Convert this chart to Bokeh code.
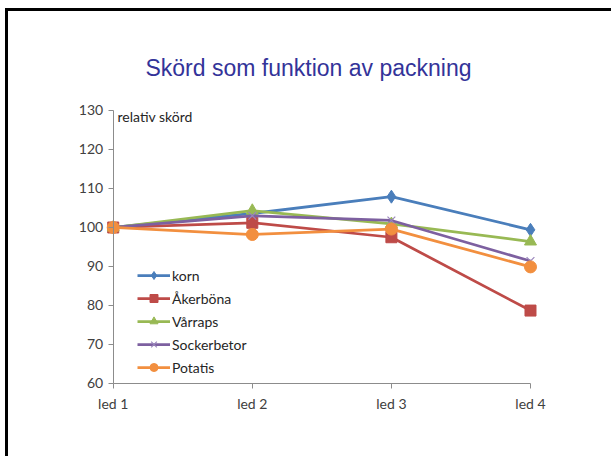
from bokeh.plotting import figure
from bokeh.models import FixedTicker, Legend, LegendItem, Label
from bokeh.embed import file_html
from bokeh.resources import INLINE

# ---- data ----
categories = ["led 1", "led 2", "led 3", "led 4"]
korn = [100, 103.6, 107.9, 99.4]
akerbona = [100, 101.2, 97.5, 78.7]
varraps = [100, 104.3, 100.9, 96.4]
sockerbetor = [100, 103.0, 101.8, 91.4]
potatis = [100, 98.2, 99.6, 89.9]
series_names = ["korn", "Åkerböna", "Vårraps", "Sockerbetor", "Potatis"]
y_ticks = [60, 70, 80, 90, 100, 110, 120, 130]
title_text = "Skörd som funktion av packning"
y_label = "relativ skörd"

colors = ["#4A7EBB", "#BE4B48", "#98B954", "#7D60A0", "#F28F3F"]
markers = ["diamond", "square", "triangle", "x", "circle"]
msizes = [13, 11, 12, 11, 12]

x = list(range(len(categories)))

p = figure(width=606, height=448, output_backend="svg", toolbar_location=None,
           x_range=(-0.3214, 3.3595), y_range=(49.23, 150.51),
           min_border_left=60, min_border_right=34, min_border_top=19, min_border_bottom=34)
p.styles = {"border-top": "3px solid black", "border-left": "3px solid black",
            "margin-left": "5px", "margin-top": "8px"}
p.outline_line_color = None
p.xgrid.visible = False
p.ygrid.visible = False
p.background_fill_color = "white"
p.border_fill_color = "white"

axis_color = "#8C8C8C"
label_color = "#404040"
tick_font = "Lato"

p.yaxis.fixed_location = x[0]
p.yaxis.bounds = (y_ticks[0], y_ticks[-1])
p.yaxis.ticker = FixedTicker(ticks=y_ticks)
p.yaxis.minor_tick_line_color = None
p.yaxis.major_tick_in = 0
p.yaxis.major_tick_out = 5
p.yaxis.axis_line_color = axis_color
p.yaxis.major_tick_line_color = axis_color
p.yaxis.major_label_text_font = tick_font
p.yaxis.major_label_text_font_size = "14px"
p.yaxis.major_label_text_color = label_color
p.yaxis.major_label_standoff = 5

p.xaxis.fixed_location = y_ticks[0]
p.xaxis.bounds = (x[0], x[-1])
p.xaxis.ticker = FixedTicker(ticks=x)
p.xaxis.major_label_overrides = {i: c for i, c in zip(x, categories)}
p.xaxis.minor_tick_line_color = None
p.xaxis.major_tick_in = 0
p.xaxis.major_tick_out = 5
p.xaxis.axis_line_color = axis_color
p.xaxis.major_tick_line_color = axis_color
p.xaxis.major_label_text_font = tick_font
p.xaxis.major_label_text_font_size = "14px"
p.xaxis.major_label_text_color = label_color
p.xaxis.major_label_standoff = 7

all_series = [korn, akerbona, varraps, sockerbetor, potatis]
items = []
for name, vals, col, mk, ms in zip(series_names, all_series, colors, markers, msizes):
    r1 = p.line(x, vals, line_color=col, line_width=2.75)
    if mk == "x":
        r2 = p.scatter(x, vals, marker=mk, size=ms, line_color="#9A86BC", line_width=1.2)
    else:
        r2 = p.scatter(x, vals, marker=mk, size=ms, fill_color=col, line_color=col)
    items.append(LegendItem(label=name, renderers=[r1, r2]))

legend = Legend(items=items, location=(69, 48), padding=0, margin=0, spacing=3,
                glyph_width=33, glyph_height=20, label_standoff=2,
                border_line_color=None, background_fill_alpha=0,
                label_text_font="Lato", label_text_font_size="14px",
                label_text_color="#262626")
p.add_layout(legend)

p.add_layout(Label(x=1.404, y=140.77, text=title_text, text_font="Liberation Sans",
                   text_font_size="23px", text_color="#333399",
                   text_align="center", text_baseline="middle"))
p.add_layout(Label(x=0.031, y=128.46, text=y_label, text_font="Lato",
                   text_font_size="14px", text_color="#262626",
                   text_align="left", text_baseline="middle"))

open("out.html", "w").write(file_html(p, INLINE))
